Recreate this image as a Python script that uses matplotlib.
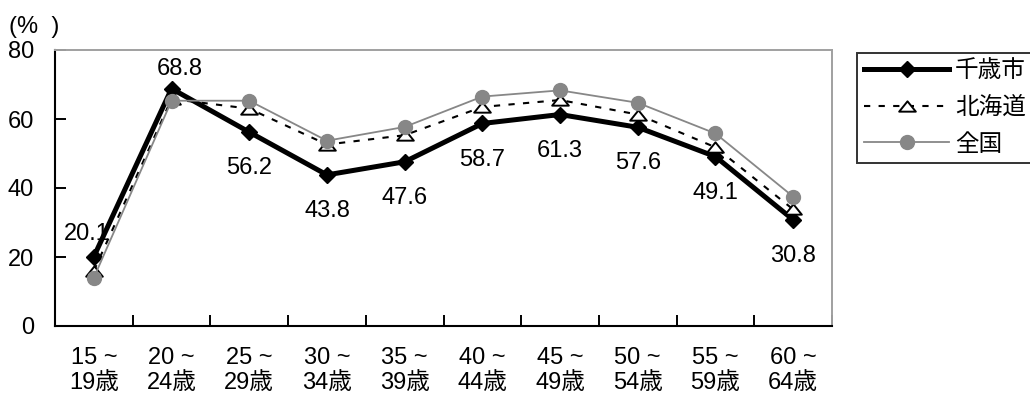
import matplotlib
matplotlib.use("Agg")
import matplotlib.pyplot as plt
from matplotlib.path import Path

# Labour force participation rate by age group (%)
age_groups = ["15 ~\n19歳", "20 ~\n24歳", "25 ~\n29歳", "30 ~\n34歳", "35 ~\n39歳",
              "40 ~\n44歳", "45 ~\n49歳", "50 ~\n54歳", "55 ~\n59歳", "60 ~\n64歳"]
chitose = [20.1, 68.8, 56.2, 43.8, 47.6, 58.7, 61.3, 57.6, 49.1, 30.8]
hokkaido = [16.0, 65.8, 63.0, 52.6, 55.3, 63.5, 65.5, 61.3, 51.8, 33.8]
national = [14.0, 65.3, 65.3, 53.7, 57.7, 66.5, 68.3, 64.7, 55.8, 37.5]
y_ticks = [0, 20, 40, 60, 80]
series_names = ["千歳市", "北海道", "全国"]

FONT = ["Liberation Sans", "Noto Sans CJK JP", "DejaVu Sans"]
plt.rcParams["font.family"] = FONT
FS = 17

fig = plt.figure(figsize=(10.30, 3.98), dpi=100)
ax = fig.add_axes([55 / 1030, 1 - 326 / 398, 777 / 1030, 276 / 398])

x = list(range(len(age_groups)))
gray = "#878787"

# wide open triangle marker
tri = Path([(0, 0.62), (-1, -0.62), (1, -0.62), (0, 0.62)],
           [Path.MOVETO, Path.LINETO, Path.LINETO, Path.CLOSEPOLY])

l1, = ax.plot(x, chitose, color="black", lw=3.6, marker="D", ms=8,
              mfc="black", mec="black", zorder=3)
l2, = ax.plot(x, hokkaido, color="black", lw=1.5, ls=(0, (3, 4)), marker=tri, ms=12,
              mfc="white", mec="black", mew=1.4, zorder=4)
l3, = ax.plot(x, national, color=gray, lw=1.3, marker="o", ms=10,
              mfc=gray, mec=gray, zorder=5)

# value labels for 千歳市
for i, v in enumerate(chitose):
    if i == 0:
        dx, dy = -5, 16
    elif i == 1:
        dx, dy = 6, 14
    else:
        dx, dy = 0, -26
    ax.annotate(f"{v:.1f}", (i, v), xytext=(dx, dy), textcoords="offset points",
                ha="center", va="center", fontsize=FS, zorder=1)

ax.set_xlim(-0.5, len(age_groups) - 0.5)
ax.set_ylim(0, 80)
ax.set_yticks(y_ticks)
ax.set_xticks(x)
ax.set_xticklabels(age_groups, fontsize=FS, linespacing=1.2)
ax.set_xticks([i + 0.5 for i in range(-1, len(age_groups))], minor=True)
ax.tick_params(axis="x", which="major", length=0, pad=15)
ax.tick_params(axis="x", which="minor", direction="in", length=8, width=1.4, color="black")
ax.tick_params(axis="y", direction="in", length=8, width=1.4, pad=15, labelsize=FS)

for side in ("left", "bottom"):
    ax.spines[side].set_color("black")
    ax.spines[side].set_linewidth(1.5)
for side in ("top", "right"):
    ax.spines[side].set_color("#a0a0a0")
    ax.spines[side].set_linewidth(1.4)

fig.text(9 / 1030, 1 - 27 / 398, "(%  )", fontsize=FS, va="center", ha="left")

leg = fig.legend([l1, l2, l3], series_names, loc="upper left",
                 bbox_to_anchor=(857 / 1030, 1 - 53 / 398), borderaxespad=0,
                 fontsize=FS, handlelength=3.6, handletextpad=0.25, labelspacing=0.62,
                 borderpad=0.3, fancybox=False, frameon=True)
leg.get_frame().set_edgecolor("black")
leg.get_frame().set_linewidth(1.4)

fig.savefig("out.png", dpi=100)
